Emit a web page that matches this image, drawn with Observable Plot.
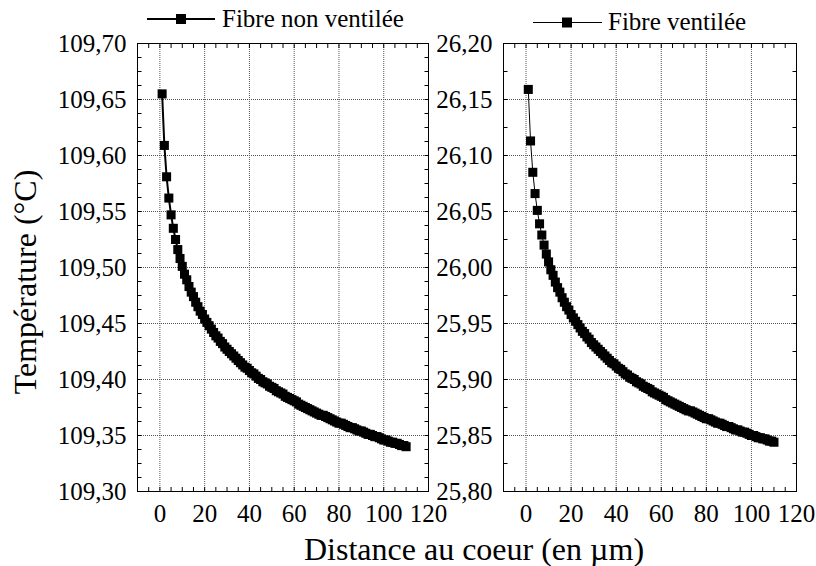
<!DOCTYPE html>
<html><head><meta charset="utf-8">
<script src="https://cdn.jsdelivr.net/npm/d3@7"></script>
<script src="https://cdn.jsdelivr.net/npm/@observablehq/plot@0.6"></script>
<style>
html,body{margin:0;padding:0;background:#fff;}
#wrap{position:relative;width:816px;height:566px;overflow:hidden;font-family:"Liberation Serif","Times New Roman",serif;}
#wrap svg{position:absolute;left:0;top:0;}
</style></head><body><div id="wrap"></div>
<script>
const distance = [1,2,3,4,5,6,7,8,9,10,11,12,13,14,15,16,17,18,19,20,21,22,23,24,25,26,27,28,29,30,31,32,33,34,35,36,37,38,39,40,41,42,43,44,45,46,47,48,49,50,51,52,53,54,55,56,57,58,59,60,61,62,63,64,65,66,67,68,69,70,71,72,73,74,75,76,77,78,79,80,81,82,83,84,85,86,87,88,89,90,91,92,93,94,95,96,97,98,99,100,101,102,103,104,105,106,107,108,109,110];
const tempNonVentilee = [
109.655,109.609,109.581,109.562,109.547,109.535,109.525,109.516,109.508,109.501,
109.494,109.489,109.483,109.478,109.474,109.469,109.465,109.461,109.458,109.454,
109.451,109.448,109.445,109.442,109.439,109.437,109.434,109.432,109.429,109.427,
109.425,109.423,109.421,109.419,109.417,109.415,109.413,109.411,109.410,109.408,
109.406,109.405,109.403,109.401,109.400,109.398,109.397,109.396,109.394,109.393,
109.392,109.390,109.389,109.388,109.387,109.385,109.384,109.383,109.382,109.381,
109.380,109.378,109.377,109.376,109.375,109.374,109.373,109.372,109.371,109.370,
109.369,109.368,109.368,109.367,109.366,109.365,109.364,109.363,109.362,109.361,
109.361,109.360,109.359,109.358,109.357,109.357,109.356,109.355,109.354,109.354,
109.353,109.352,109.351,109.351,109.350,109.349,109.349,109.348,109.347,109.346,
109.346,109.345,109.344,109.344,109.343,109.343,109.342,109.341,109.341,109.340];
const tempVentilee = [
26.159,26.113,26.085,26.066,26.051,26.039,26.029,26.020,26.012,26.005,
25.998,25.993,25.987,25.982,25.978,25.973,25.969,25.965,25.962,25.958,
25.955,25.952,25.949,25.946,25.943,25.941,25.938,25.936,25.933,25.931,
25.929,25.927,25.925,25.923,25.921,25.919,25.917,25.915,25.914,25.912,
25.910,25.909,25.907,25.905,25.904,25.902,25.901,25.900,25.898,25.897,
25.896,25.894,25.893,25.892,25.891,25.889,25.888,25.887,25.886,25.885,
25.884,25.882,25.881,25.880,25.879,25.878,25.877,25.876,25.875,25.874,
25.873,25.872,25.872,25.871,25.870,25.869,25.868,25.867,25.866,25.865,
25.865,25.864,25.863,25.862,25.861,25.861,25.860,25.859,25.858,25.858,
25.857,25.856,25.855,25.855,25.854,25.853,25.853,25.852,25.851,25.850,
25.850,25.849,25.848,25.848,25.847,25.847,25.846,25.845,25.845,25.844];
const xMajorTicks = [0,20,40,60,80,100,120];
const xMinorTicks = [-5,0,5,10,15,20,25,30,35,40,45,50,55,60,65,70,75,80,85,90,95,100,105,110,115,120];
const yTicksNonVentilee = [109.30,109.35,109.40,109.45,109.50,109.55,109.60,109.65,109.70];
const yTicksVentilee = [25.80,25.85,25.90,25.95,26.00,26.05,26.10,26.15,26.20];
const seriesNames = ["Fibre non ventilée","Fibre ventilée"];
const xLabel = "Distance au coeur (en µm)";
const yLabel = "Température (°C)";

const FONT = '"Liberation Serif","Times New Roman",serif';
const fmt = v => v.toFixed(2).replace(".", ",");
const TICK_LEN = 4;
const tickRightward = {draw(ctx) { ctx.moveTo(0, 0); ctx.lineTo(TICK_LEN, 0); }};
const tickLeftward = {draw(ctx) { ctx.moveTo(0, 0); ctx.lineTo(-TICK_LEN, 0); }};

function panel({values, yTicks, yMinorStep, marginLeft, marginRight, lineWidth}) {
  const data = distance.map((d, i) => ({d, t: values[i]}));
  const y0 = yTicks[0], y1 = yTicks[yTicks.length - 1];
  const yMinor = d3.range(y0, y1 + 1e-9, yMinorStep);
  const grid = {stroke: "#555", strokeOpacity: 1, strokeWidth: 1, strokeDasharray: "1,1"};
  const tk = {tickFormat: () => "", label: null, stroke: "black", tickSize: -TICK_LEN};
  return Plot.plot({
    width: 816, height: 566,
    marginLeft, marginRight, marginTop: 43, marginBottom: 75,
    x: {domain: [-10, 120], label: null},
    y: {domain: [y0, y1], label: null},
    style: {background: "transparent", overflow: "visible", fontFamily: FONT, fontSize: "25px", color: "black"},
    marks: [
      Plot.gridX(xMajorTicks, grid),
      Plot.gridY(yTicks, grid),
      Plot.axisX({ticks: xMinorTicks, anchor: "bottom", ...tk}),
      Plot.axisX({ticks: xMinorTicks, anchor: "top", ...tk}),
      Plot.dot(yMinor, {y: d => d, frameAnchor: "left", symbol: tickRightward, stroke: "black", fill: "none", strokeWidth: 1}),
      Plot.dot(yMinor, {y: d => d, frameAnchor: "right", symbol: tickLeftward, stroke: "black", fill: "none", strokeWidth: 1}),
      Plot.axisX({ticks: xMajorTicks, anchor: "bottom", tickSize: 0, tickPadding: 13, tickFormat: d => String(d), label: null, fontSize: 25}),
      Plot.axisY({ticks: yTicks, anchor: "left", tickSize: 0, tickPadding: 11, tickFormat: fmt, label: null, fontSize: 25}),
      Plot.frame({stroke: "black", strokeWidth: 1}),
      Plot.line(data, {x: "d", y: "t", stroke: "black", strokeWidth: lineWidth}),
      Plot.dot(data, {x: "d", y: "t", symbol: "square", r: 5.1, fill: "black", stroke: "none"})
    ]
  });
}

const wrap = document.getElementById("wrap");
wrap.appendChild(panel({values: tempNonVentilee, yTicks: yTicksNonVentilee, yMinorStep: 0.0125, marginLeft: 137, marginRight: 816 - 428, lineWidth: 2}));
wrap.appendChild(panel({values: tempVentilee, yTicks: yTicksVentilee, yMinorStep: 0.025, marginLeft: 503, marginRight: 816 - 796, lineWidth: 1}));

const svg = d3.select(wrap).append("svg").attr("width", 816).attr("height", 566)
  .style("font-family", FONT).style("overflow", "visible");
const legends = [
  {name: seriesNames[0], x1: 147, x2: 215, cx: 181, cy: 19, w: 2, tx: 222, ty: 27},
  {name: seriesNames[1], x1: 533, x2: 602, cx: 567, cy: 22.5, w: 1, tx: 608, ty: 30}
];
for (const l of legends) {
  svg.append("line").attr("x1", l.x1).attr("x2", l.x2).attr("y1", l.cy).attr("y2", l.cy)
    .attr("stroke", "black").attr("stroke-width", l.w);
  svg.append("rect").attr("x", l.cx - 5).attr("y", l.cy - 5).attr("width", 10).attr("height", 10).attr("fill", "black");
  svg.append("text").attr("x", l.tx).attr("y", l.ty).attr("font-size", 25).attr("fill", "black").text(l.name);
}
svg.append("text").attr("x", 474).attr("y", 560).attr("text-anchor", "middle")
  .attr("font-size", 32).attr("fill", "black").text(xLabel);
svg.append("text").attr("transform", "translate(36,282) rotate(-90)").attr("text-anchor", "middle")
  .attr("font-size", 32).attr("fill", "black").text(yLabel);
</script></body></html>
